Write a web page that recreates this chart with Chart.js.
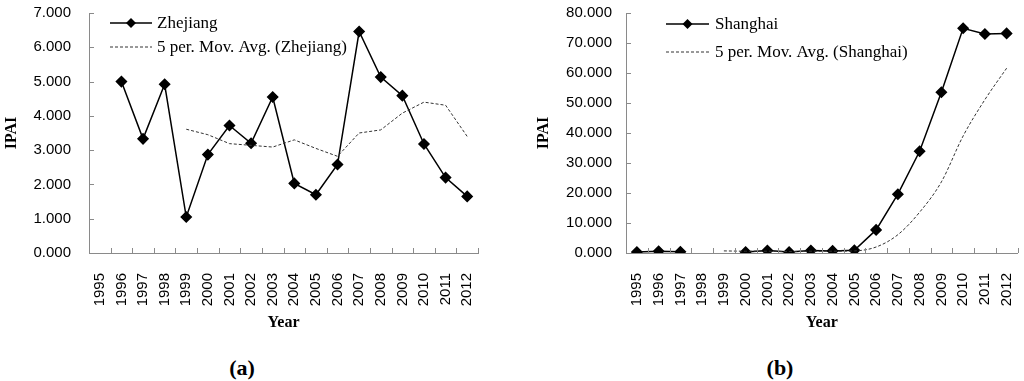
<!DOCTYPE html>
<html>
<head>
<meta charset="utf-8">
<script src="https://cdn.jsdelivr.net/npm/chart.js@4"></script>
<style>
  body { margin: 0; background: #fff; width: 1024px; height: 381px; position: relative; overflow: hidden; }
  canvas { position: absolute; top: 0; }
  .cap { position: absolute; top: 355px; line-height: 24px; font: bold 22px "Liberation Serif", serif; color: #000; transform: translateX(-50%); }
</style>
</head>
<body>
<canvas id="chartA" width="512" height="340" style="left:0"></canvas>
<canvas id="chartB" width="512" height="340" style="left:512px"></canvas>
<div class="cap" style="left:242px">(a)</div>
<div class="cap" style="left:780px">(b)</div>
<script>
const years = ["1995","1996","1997","1998","1999","2000","2001","2002","2003","2004","2005","2006","2007","2008","2009","2010","2011","2012"]

// values
const zhejiang =   [null, 5.00, 3.33, 4.92, 1.05, 2.87, 3.72, 3.20, 4.55, 2.03, 1.70, 2.58, 6.46, 5.13, 4.59, 3.18, 2.20, 1.65]
const zhejiangMA = [null, null, null, null, 3.61, 3.45, 3.19, 3.14, 3.09, 3.30, 3.05, 2.82, 3.50, 3.59, 4.08, 4.40, 4.31, 3.40]
const shanghai =   [0.3, 0.6, 0.4, null, null, 0.3, 0.8, 0.3, 0.8, 0.7, 0.9, 7.7, 19.6, 33.9, 53.6, 74.9, 73.0, 73.2]
const shanghaiMA = [null, null, null, null, 0.7, 0.6, 0.6, 0.5, 0.6, 0.6, 0.7, 2.0, 6.1, 13.6, 23.7, 39.0, 51.1, 61.6]

const axisColor = "#8a8a8a"

const innerTicks = {
  id: "innerTicks",
  afterDraw(chart, args, opts) {
    const {ctx, chartArea, scales} = chart
    const x = scales.x, y = scales.y
    ctx.save()
    ctx.strokeStyle = axisColor
    ctx.lineWidth = 1
    ctx.beginPath()
    y.ticks.forEach((t, i) => {
      const py = Math.round(y.getPixelForTick(i)) + 0.5
      ctx.moveTo(chartArea.left, py)
      ctx.lineTo(chartArea.left + 5, py)
    })
    const half = (x.getPixelForTick(1) - x.getPixelForTick(0)) / 2
    for (let i = 0; i < x.ticks.length; i++) {
      const px = Math.round(x.getPixelForTick(i) + half) + 0.5
      ctx.moveTo(px, chartArea.bottom)
      ctx.lineTo(px, chartArea.bottom - 5)
    }
    ctx.stroke()

    // legend
    ctx.font = "17px 'Liberation Serif'"
    ctx.textBaseline = "middle"
    ctx.fillStyle = "#000"
    chart.data.datasets.slice().reverse().forEach((ds, i) => {
      const ly = opts.rows[i]
      ctx.strokeStyle = ds.borderColor
      ctx.lineWidth = ds.borderWidth
      ctx.setLineDash(ds.borderDash || [])
      ctx.beginPath()
      ctx.moveTo(opts.x1, ly)
      ctx.lineTo(opts.x2, ly)
      ctx.stroke()
      ctx.setLineDash([])
      if (ds.pointRadius > 0) {
        const cx = (opts.x1 + opts.x2) / 2, r = ds.pointRadius
        ctx.beginPath()
        ctx.moveTo(cx, ly - r); ctx.lineTo(cx + r, ly); ctx.lineTo(cx, ly + r); ctx.lineTo(cx - r, ly)
        ctx.closePath()
        ctx.fill()
      }
      ctx.fillText(ds.label, opts.tx, ly + 1)
    })
    ctx.restore()
  }
}

const make_chart = (id, main, ma, names, yMax, yStep, yWidth, rightPad, titlePad, labelPad, legend, smooth) => {
  new Chart(document.getElementById(id), {
    type: "line",
    data: {
      labels: years,
      datasets: [{
        label: names[1],
        data: ma,
        borderColor: "#333",
        borderWidth: 1,
        borderDash: [3, 2],
        pointRadius: 0,
        tension: smooth ? 0.4 : 0,
        cubicInterpolationMode: smooth ? "monotone" : "default"
      }, {
        label: names[0],
        data: main,
        borderColor: "#000",
        borderWidth: 1.5,
        pointStyle: "rectRot",
        pointRadius: 5,
        pointBackgroundColor: "#000",
        pointBorderColor: "#000",
        tension: 0
      }]
    },
    options: {
      responsive: false,
      animation: false,
      layout: {padding: {left: 0, top: 13, right: rightPad, bottom: 0}},
      plugins: {
        legend: {display: false},
        tooltip: {enabled: false},
        innerTicks: legend
      },
      scales: {
        x: {
          offset: true,
          grid: {display: false, drawTicks: false},
          border: {display: true, color: axisColor, width: 1},
          ticks: {autoSkip: false, maxRotation: 90, minRotation: 90, padding: 20, color: "#000",
                  font: {family: "Liberation Sans", size: 15}},
          title: {display: true, text: "Year", color: "#000", padding: {top: 0, bottom: 8},
                  font: {family: "Liberation Serif", size: 16, weight: "bold"}},
          afterFit: s => { s.height = 87; s.paddingLeft = 0; s.paddingRight = 0 }
        },
        y: {
          min: 0, max: yMax,
          grid: {display: false, drawTicks: false},
          border: {display: true, color: axisColor, width: 1},
          ticks: {stepSize: yStep, padding: labelPad, color: "#000", callback: v => v.toFixed(3),
                  font: {family: "Liberation Sans", size: 15}},
          title: {display: true, text: "IPAI", color: "#000", padding: {top: titlePad, bottom: 0},
                  font: {family: "Liberation Serif", size: 16, weight: "bold"}},
          afterFit: s => { s.width = yWidth; s.paddingTop = 0; s.paddingBottom = 0 }
        }
      }
    },
    plugins: [innerTicks]
  })
}

make_chart("chartA", zhejiang, zhejiangMA, ["Zhejiang", "5 per. Mov. Avg. (Zhejiang)"], 7, 1, 89, 34, 2, 18,
  {x1: 110, x2: 152, tx: 157, rows: [23, 47]}, false)
make_chart("chartB", shanghai, shanghaiMA, ["Shanghai", "5 per. Mov. Avg. (Shanghai)"], 80, 10, 114, 5, 22, 14,
  {x1: 154, x2: 197, tx: 203, rows: [24, 52]}, true)
</script>
</body>
</html>
